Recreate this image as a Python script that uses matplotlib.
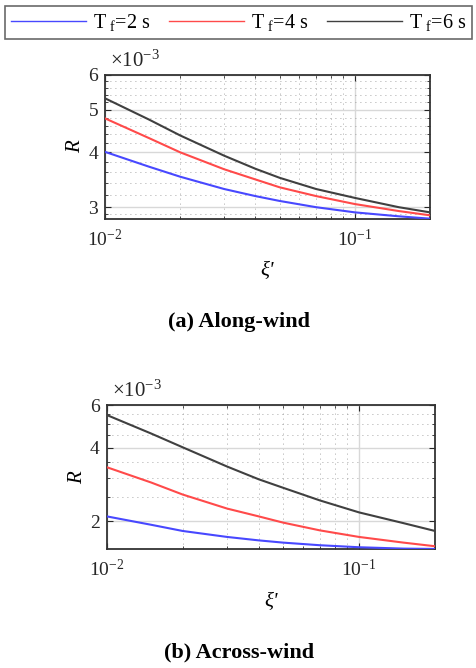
import matplotlib
matplotlib.use("Agg")
import matplotlib.pyplot as plt
from matplotlib.ticker import FixedLocator, FixedFormatter, NullFormatter
from matplotlib.lines import Line2D

plt.rcParams['font.family'] = ['Liberation Serif', 'DejaVu Serif']
plt.rcParams['mathtext.fontset'] = 'custom'
plt.rcParams['mathtext.rm'] = 'Liberation Serif'
plt.rcParams['mathtext.it'] = 'Liberation Serif:italic'

# ---- data ----
xi = [0.01, 0.015, 0.02, 0.03, 0.04, 0.05, 0.07, 0.1, 0.15, 0.2]
along_tf2 = [4.01, 3.71, 3.52, 3.30, 3.18, 3.10, 3.00, 2.92, 2.86, 2.825]
along_tf4 = [4.78, 4.31, 4.00, 3.66, 3.47, 3.33, 3.18, 3.05, 2.94, 2.875]
along_tf6 = [5.31, 4.75, 4.37, 3.93, 3.67, 3.50, 3.30, 3.15, 3.00, 2.92]
across_tf2 = [2.09, 1.93, 1.82, 1.72, 1.665, 1.63, 1.59, 1.56, 1.54, 1.535]
across_tf4 = [3.33, 2.88, 2.57, 2.25, 2.09, 1.97, 1.83, 1.72, 1.63, 1.575]
across_tf6 = [5.46, 4.58, 4.02, 3.35, 2.97, 2.74, 2.43, 2.17, 1.96, 1.82]
labels = [r'T$\;_{\mathregular{f}}$=2 s', r'T$\;_{\mathregular{f}}$=4 s', r'T$\;_{\mathregular{f}}$=6 s']
colors = ['#4848ff', '#ff4a4a', '#404040']
scale = 1e-3

fig = plt.figure(figsize=(4.77, 6.68), dpi=100)
W, H = 477.0, 668.0

def make_ax(l, t, r, b):
    return fig.add_axes([l / W, 1 - b / H, (r - l) / W, (b - t) / H])

ax1 = make_ax(105, 75, 430, 219)
ax2 = make_ax(106.7, 405, 435, 549.3)

panels = [
    (ax1, [along_tf2, along_tf4, along_tf6], (2.82, 6.0), [3, 4, 5, 6],
     [2.9, 3.2, 3.4, 3.6, 3.8, 4.2, 4.4, 4.6, 4.8, 5.2, 5.4, 5.6, 5.8]),
    (ax2, [across_tf2, across_tf4, across_tf6], (1.53, 6.0), [2, 4, 6],
     [2.5, 3, 3.5, 4.5, 5, 5.5]),
]

for ax, series, ylim, yt, ymin in panels:
    for s, c in zip(series, colors):
        ax.plot(xi, [v * scale for v in s], color=c, lw=1.5, zorder=3,
                solid_joinstyle='round')
    ax.set_xscale('log')
    ax.set_yscale('log')
    ax.set_xlim(0.01, 0.2)
    ax.set_ylim(ylim[0] * scale, ylim[1] * scale)
    ax.xaxis.set_major_locator(FixedLocator([0.01, 0.1]))
    ax.xaxis.set_major_formatter(FixedFormatter([r'10$^{-2}$', r'10$^{-1}$']))
    ax.xaxis.set_minor_locator(FixedLocator([0.02, 0.03, 0.04, 0.05, 0.06, 0.07, 0.08, 0.09, 0.2]))
    ax.xaxis.set_minor_formatter(NullFormatter())
    ax.yaxis.set_major_locator(FixedLocator([v * scale for v in yt]))
    ax.yaxis.set_major_formatter(FixedFormatter([str(v) for v in yt]))
    ax.yaxis.set_minor_locator(FixedLocator([v * scale for v in ymin]))
    ax.yaxis.set_minor_formatter(NullFormatter())
    ax.tick_params(which='both', direction='in', top=True, right=True,
                   labelsize=14, colors='#262626')
    ax.tick_params(axis='x', pad=7)
    ax.tick_params(axis='y', pad=5)
    ax.tick_params(which='major', length=4, width=0.8)
    ax.tick_params(which='minor', length=2.5, width=0.6)
    ax.grid(True, which='major', color='#d8d8d8', lw=1.0, ls='-', zorder=0)
    ax.grid(True, which='minor', color='#8a8a8a', lw=0.6, ls=(0, (1, 5)), zorder=0)
    for sp in ax.spines.values():
        sp.set_color('#333333')
        sp.set_linewidth(1.3)
    ax.set_ylabel('R', fontstyle='italic', fontsize=15, labelpad=2)
    ax.set_xlabel("\u03be'", fontstyle='italic', fontsize=15, labelpad=9)
    ax.text(0.015, 1.02, r'$\times$10$^{-3}$', transform=ax.transAxes,
            fontsize=15, color='#262626', ha='left', va='bottom')

fig.text(239 / W, 1 - 322 / H, '(a) Along-wind', ha='center', va='center',
         fontsize=16, fontweight='bold')
fig.text(239 / W, 1 - 652 / H, '(b) Across-wind', ha='center', va='center',
         fontsize=16, fontweight='bold')

handles = [Line2D([], [], color=c, lw=1.0) for c in colors]
leg = fig.legend(handles, labels, loc='upper center', bbox_to_anchor=(0.5, 0.997),
                 ncol=3, fontsize=14.5, handlelength=3.7, handletextpad=0.35,
                 columnspacing=0.95, frameon=True, fancybox=False,
                 borderpad=0.3, borderaxespad=0.2)
leg.get_frame().set_edgecolor('#444444')
leg.get_frame().set_linewidth(1.2)

fig.savefig('out.png', dpi=100)
